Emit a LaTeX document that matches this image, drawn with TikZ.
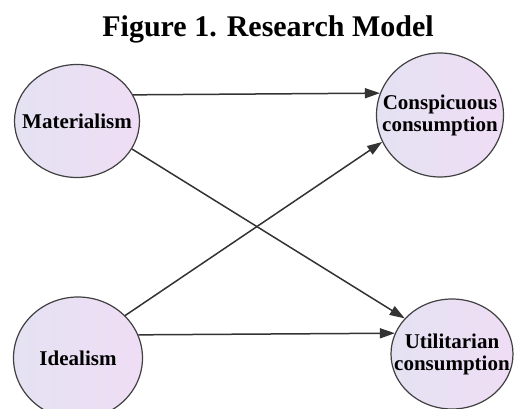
\documentclass[tikz,border=0pt]{standalone}
\usepackage{fontspec}
\setmainfont{Liberation Serif}
\usepackage{tikz}
\usetikzlibrary{arrows.meta, positioning, shapes.geometric}
\definecolor{lavleft}{RGB}{228,226,242}
\definecolor{lavright}{RGB}{239,221,245}

\begin{document}
\begin{tikzpicture}[
  x=1pt, y=-1pt,
  construct/.style={ellipse, draw=black!75, line width=1.2pt, left color=lavleft, right color=lavright,
    align=center, inner xsep=-30pt, inner ysep=-6pt, font=\fontsize{21}{22}\selectfont\bfseries},
  link/.style={-{Triangle[length=15pt,width=10pt]}, line width=1.5pt, draw=black!80}
]
\useasboundingbox (0,0) rectangle (515,409);
\node[font=\fontsize{30}{32}\selectfont\bfseries, anchor=base] (title) at (268,37) {Figure 1. Research Model};
\node[construct, minimum width=125pt, minimum height=113pt] (mat) at (77,121) {Materialism};
\node[construct, minimum width=127pt, minimum height=124pt] (consp) at (440,115) {Conspicuous\\consumption};
\node[construct, minimum width=129pt, minimum height=122pt] (ideal) at (78,358) {Idealism};
\node[construct, minimum width=122pt, minimum height=110pt] (util) at (452,354) {Utilitarian\\consumption};
\draw[link] (mat.25) -- (consp.160);
\draw[link] (mat.-27) -- (util.143);
\draw[link] (ideal.42) -- (consp.205);
\draw[link] (ideal.21) -- (util.160);
\end{tikzpicture}
\end{document}
